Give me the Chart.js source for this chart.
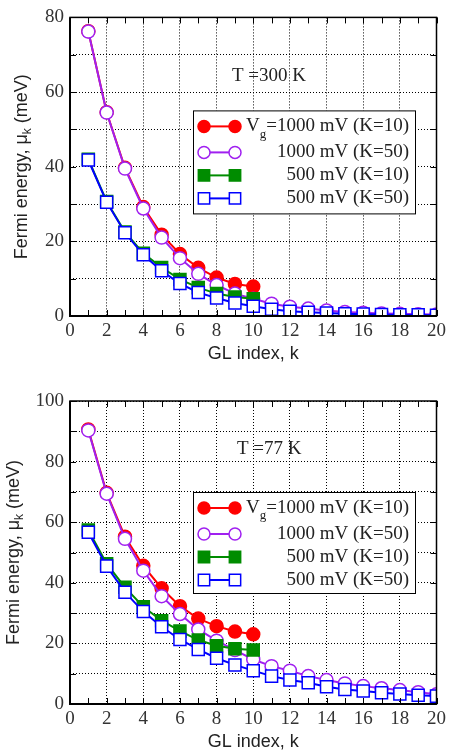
<!DOCTYPE html>
<html>
<head>
<meta charset="utf-8">
<script src="https://cdn.jsdelivr.net/npm/chart.js@4.4.0/dist/chart.umd.min.js"></script>
<style>
    body { margin: 0; background: #fff; }
    canvas { position: absolute; left: 0; }
    #chartTop { top: 0; }
    #chartBottom { top: 368px; }
</style>
</head>
<body>
<canvas id="chartTop" width="450" height="368"></canvas>
<canvas id="chartBottom" width="450" height="387"></canvas>
<script>
// GL index k (x axis)
const glIndex = [1, 2, 3, 4, 5, 6, 7, 8, 9, 10, 11, 12, 13, 14, 15, 16, 17, 18, 19, 20];

// Series names
const seriesLabels = ['=1000 mV (K=10)', '1000 mV (K=50)', '500 mV (K=10)', '500 mV (K=50)'];

// T = 300 K
const top1000K10 = [76.3, 54.6, 39.7, 29.2, 21.8, 16.6, 12.9, 10.3, 8.6, 7.9];
const top1000K50 = [76.2, 54.5, 39.5, 28.8, 21.0, 15.5, 11.3, 8.3, 6.0, 4.6, 3.3, 2.5, 2.0, 1.5, 1.1, 0.9, 0.7, 0.6, 0.5, 0.4];
const top500K10 = [42.0, 30.7, 22.5, 16.8, 13.0, 9.8, 7.6, 6.0, 5.1, 4.6];
const top500K50 = [41.8, 30.5, 22.3, 16.4, 12.1, 8.7, 6.3, 4.8, 3.5, 2.6, 1.8, 1.3, 1.0, 0.8, 0.6, 0.5, 0.4, 0.3, 0.3, 0.2];

// T = 77 K
const bot1000K10 = [90.6, 69.7, 55.2, 45.6, 38.2, 32.3, 28.2, 25.7, 23.9, 23.0];
const bot1000K50 = [90.3, 69.4, 54.5, 44.0, 35.6, 29.7, 24.6, 20.9, 17.8, 14.7, 12.5, 11.0, 9.2, 7.9, 6.8, 5.9, 5.2, 4.6, 3.9, 3.2];
const bot500K10 = [57.4, 46.3, 38.5, 32.1, 27.5, 24.1, 21.1, 19.2, 18.2, 17.8];
const bot500K50 = [56.7, 45.5, 36.9, 30.5, 25.5, 21.3, 18.0, 15.1, 12.9, 11.0, 9.2, 7.9, 7.0, 5.7, 4.8, 4.3, 3.7, 3.3, 2.9, 2.6];

const xTicks = [0, 2, 4, 6, 8, 10, 12, 14, 16, 18, 20];

const serif = '"Liberation Serif", "DejaVu Serif", serif';
const sans = '"Liberation Sans", Arial, sans-serif';

// Styles per series (red, purple, green, blue)
const seriesStyles = [
    { color: '#ff0000', fill: '#ff0000', shape: 'circle', radius: 6.5 },
    { color: '#a020f0', fill: '#ffffff', shape: 'circle', radius: 6.5 },
    { color: '#008c00', fill: '#008c00', shape: 'rect', radius: 8.5 },
    { color: '#0000ff', fill: '#ffffff', shape: 'rect', radius: 8.5 }
];

function toPoints(values) {
    return values.map((v, i) => ({ x: glIndex[i], y: v }));
}

function buildDatasets(seriesValues) {
    return seriesValues.map((values, i) => {
        const s = seriesStyles[i];
        return {
            label: seriesLabels[i],
            data: toPoints(values),
            borderColor: s.color,
            backgroundColor: s.fill,
            pointStyle: s.shape,
            pointRadius: s.radius,
            pointBorderWidth: 1.5,
            pointBorderColor: s.color,
            pointBackgroundColor: s.fill,
            borderWidth: 2,
            order: 4 - i
        };
    });
}

// Frame, inner ticks, legend, y title and temperature note
const decorPlugin = {
    id: 'decor',
    afterDatasetsDraw(chart, args, opts) {
        const ctx = chart.ctx;
        const ca = chart.chartArea;
        const xs = chart.scales.x;
        const ys = chart.scales.y;
        ctx.save();

        // frame
        ctx.strokeStyle = '#000';
        ctx.lineWidth = 1.5;
        ctx.strokeRect(ca.left, ca.top, ca.right - ca.left, ca.bottom - ca.top);
        ctx.lineWidth = 2;
        ctx.beginPath();
        ctx.moveTo(ca.left, ca.top);
        ctx.lineTo(ca.left, ca.bottom);
        ctx.lineTo(ca.right, ca.bottom);
        ctx.stroke();

        // inner ticks
        ctx.lineWidth = 1;
        ctx.beginPath();
        for (let v = 0; v <= 20; v++) {
            const px = Math.round(xs.getPixelForValue(v)) + 0.5;
            ctx.moveTo(px, ca.bottom); ctx.lineTo(px, ca.bottom - 6);
            ctx.moveTo(px, ca.top); ctx.lineTo(px, ca.top + 6);
        }
        for (let v = 0; v <= ys.max; v += 10) {
            const py = Math.round(ys.getPixelForValue(v)) + 0.5;
            ctx.moveTo(ca.left, py); ctx.lineTo(ca.left + 6, py);
            ctx.moveTo(ca.right, py); ctx.lineTo(ca.right - 6, py);
        }
        ctx.stroke();

        // legend box
        const bx = ca.left + opts.legendX, by = ca.top + opts.legendY;
        const bw = 222, bh = opts.legendH;
        ctx.fillStyle = '#fff';
        ctx.fillRect(bx, by, bw, bh);
        ctx.strokeStyle = '#000';
        ctx.lineWidth = 1;
        ctx.strokeRect(bx + 0.5, by + 0.5, bw, bh);

        const rowY = [16, 42, 65, 88];
        chart.data.datasets.forEach((ds, i) => {
            const s = seriesStyles[i];
            const y = by + rowY[i];
            ctx.strokeStyle = s.color;
            ctx.lineWidth = 2;
            ctx.beginPath();
            ctx.moveTo(bx + 11, y); ctx.lineTo(bx + 42, y);
            ctx.stroke();
            [bx + 11, bx + 42].forEach(px => {
                ctx.fillStyle = s.fill;
                ctx.strokeStyle = s.color;
                ctx.lineWidth = 1.5;
                ctx.beginPath();
                if (s.shape === 'circle') {
                    ctx.arc(px, y, s.radius - 0.5, 0, Math.PI * 2);
                } else {
                    const h = (s.radius - 0.5) * Math.SQRT1_2;
                    ctx.rect(px - h, y - h, 2 * h, 2 * h);
                }
                ctx.fill();
                ctx.stroke();
            });

            ctx.fillStyle = '#222';
            ctx.font = '19px ' + serif;
            ctx.textBaseline = 'middle';
            ctx.textAlign = 'right';
            const right = bx + 216;
            ctx.fillText(ds.label, right, y);
            if (i === 0) {
                // V with subscript g
                const w = ctx.measureText(ds.label).width;
                ctx.font = '13px ' + serif;
                ctx.fillText('g', right - w, y + 8);
                const gw = ctx.measureText('g').width;
                ctx.font = '19px ' + serif;
                ctx.fillText('V', right - w - gw, y);
            }
        });

        // temperature note
        ctx.fillStyle = '#222';
        ctx.font = '19px ' + serif;
        ctx.textAlign = 'left';
        ctx.textBaseline = 'middle';
        ctx.fillText(opts.note, ca.left + opts.noteX, ca.top + opts.noteY);

        // y axis title with subscript k
        ctx.translate(ca.left - opts.titleOffset, (ca.top + ca.bottom) / 2);
        ctx.rotate(-Math.PI / 2);
        const partA = 'Fermi energy, \u03bc';
        const partB = ' (meV)';
        ctx.font = '18px ' + sans;
        const wa = ctx.measureText(partA).width;
        const wb = ctx.measureText(partB).width;
        ctx.font = '12px ' + sans;
        const wk = ctx.measureText('k').width;
        const start = -(wa + wk + wb) / 2;
        ctx.textAlign = 'left';
        ctx.fillStyle = '#222';
        ctx.font = '18px ' + sans;
        ctx.fillText(partA, start, 0);
        ctx.font = '12px ' + sans;
        ctx.fillText('k', start + wa, 6);
        ctx.font = '18px ' + sans;
        ctx.fillText(partB, start + wa + wk, 0);

        ctx.restore();
    }
};

function makeChart(canvasId, seriesValues, yMax, padTop, xHeight, titlePad, decor) {
    const ctx = document.getElementById(canvasId).getContext('2d');
    return new Chart(ctx, {
        type: 'line',
        data: { datasets: buildDatasets(seriesValues) },
        options: {
            responsive: false,
            animation: false,
            devicePixelRatio: 1,
            layout: { padding: { top: padTop, right: 11, left: 0, bottom: 0 } },
            plugins: {
                legend: { display: false },
                tooltip: { enabled: false },
                decor: decor
            },
            scales: {
                x: {
                    type: 'linear',
                    min: 0,
                    max: 20,
                    afterFit: s => { s.height = xHeight; },
                    afterBuildTicks: s => { s.ticks = xTicks.map(v => ({ value: v })); },
                    ticks: {
                        padding: 4,
                        color: '#333',
                        font: { family: serif, size: 19 }
                    },
                    grid: { drawTicks: false, color: '#000', lineWidth: 1 },
                    border: { display: false, dash: [1, 2] },
                    title: {
                        display: true,
                        text: 'GL index, k',
                        color: '#222',
                        font: { family: sans, size: 18 },
                        padding: { top: 0, bottom: titlePad }
                    }
                },
                y: {
                    min: 0,
                    max: yMax,
                    afterFit: s => { s.width = 70; },
                    ticks: {
                        stepSize: 10,
                        padding: 6,
                        color: '#333',
                        font: { family: serif, size: 19 },
                        callback: v => (v % 20 === 0 ? v : '')
                    },
                    grid: { drawTicks: false, color: '#000', lineWidth: 1 },
                    border: { display: false, dash: [1, 2] }
                }
            }
        },
        plugins: [decorPlugin]
    });
}

document.addEventListener('DOMContentLoaded', function() {
    makeChart('chartTop', [top1000K10, top1000K50, top500K10, top500K50], 80, 7, 52, 3, {
        legendX: 123, legendY: 93, legendH: 103,
        note: 'T =300 K', noteX: 162, noteY: 59,
        titleOffset: 48
    });
    makeChart('chartBottom', [bot1000K10, bot1000K50, bot500K10, bot500K50], 100, 33, 51, 2, {
        legendX: 123, legendY: 91, legendH: 101,
        note: 'T =77 K', noteX: 167, noteY: 48,
        titleOffset: 56
    });
});
</script>
</body>
</html>
